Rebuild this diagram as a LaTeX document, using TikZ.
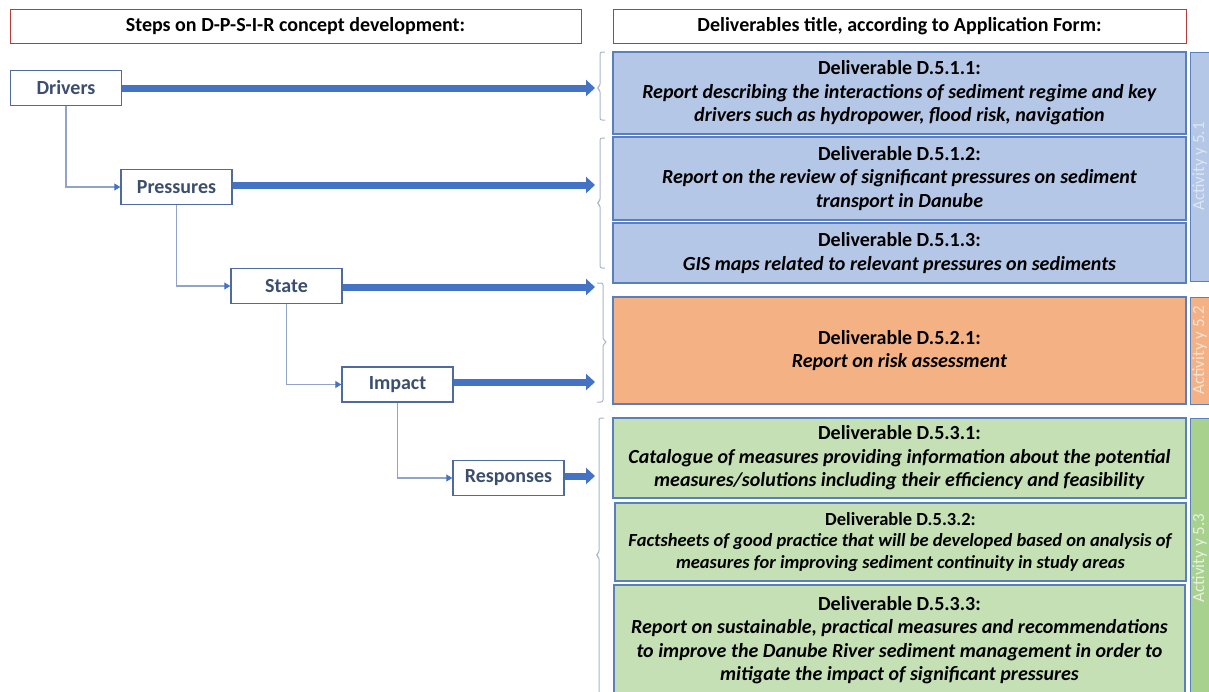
\documentclass[tikz,border=0pt]{standalone}
\usepackage{fontspec}
\setmainfont{Carlito}
\usetikzlibrary{arrows.meta,positioning}
\definecolor{hdred}{HTML}{B83C3C}
\definecolor{mainblue}{HTML}{4472C4}
\definecolor{stepline}{HTML}{4E6A9E}
\definecolor{steptext}{HTML}{3B4E6E}
\definecolor{thinline}{HTML}{8FA4C8}
\definecolor{bracecol}{HTML}{A9B6CC}
\definecolor{dblue}{HTML}{B4C7E7}
\definecolor{dblueline}{HTML}{5A7FBF}
\definecolor{dorange}{HTML}{F4B183}
\definecolor{dgreen}{HTML}{C5E0B4}
\definecolor{agreen}{HTML}{A9D18E}
\definecolor{actblue}{HTML}{DCE6F4}
\definecolor{actorange}{HTML}{FCE4D4}
\definecolor{actgreen}{HTML}{E6F2DE}
\tikzset{
  header/.style={draw=hdred, line width=0.9pt, fill=white, inner sep=0pt,
    font=\bfseries\fontsize{20}{22}\selectfont},
  stepbox/.style={draw=stepline, line width=1.4pt, fill=white, minimum width=111pt,
    minimum height=35pt, inner sep=0pt, text=steptext,
    font=\bfseries\fontsize{20}{22}\selectfont},
  bigarrow/.style={draw=mainblue, line width=7pt, -{Triangle[length=9pt,width=16pt]}},
  thinarrow/.style={draw=thinline, line width=1.1pt, -{Triangle[length=6pt,width=7pt,fill=mainblue,color=mainblue]}},
  delbox/.style={draw=dblueline, line width=1.3pt, minimum width=573pt, inner sep=0pt,
    align=center, font=\fontsize{20}{23.5}\selectfont},
  actbar/.style={draw=dblueline, line width=1pt, minimum width=19pt, inner sep=0pt},
  acttext/.style={rotate=90, font=\fontsize{17}{18}\selectfont},
  brace/.style={draw=bracecol, line width=1pt, rounded corners=2pt},
}
\newcommand{\dtitle}[1]{\textbf{#1}}
\newcommand{\ddesc}[1]{\textbf{\textit{#1}}}
\begin{document}
\begin{tikzpicture}[x=1pt,y=-1pt]
\useasboundingbox (0,0) rectangle (1209,691);

% column headers
\node[header, minimum width=571pt, minimum height=34pt] (hl) at (295.5,26) {Steps on D-P-S-I-R concept development:};
\node[header, minimum width=573pt, minimum height=34pt] (hr) at (899.5,26) {Deliverables title, according to Application Form:};

% D-P-S-I-R steps
\node[stepbox] (drv) at (66,88) {Drivers};
\node[stepbox] (prs) at (176.5,187) {Pressures};
\node[stepbox] (sta) at (286.5,286) {State};
\node[stepbox] (imp) at (397.5,384.5) {Impact};
\node[stepbox] (rsp) at (508.5,478) {Responses};

% free ends of the wide arrows, at the braces
\coordinate (tdrv) at (595,88);
\coordinate (tprs) at (595,185);
\coordinate (tsta) at (595,287);
\coordinate (timp) at (595,382);
\coordinate (trsp) at (595,476);

\draw[bigarrow] (drv.east |- tdrv) -- (tdrv);
\draw[bigarrow] (prs.east |- tprs) -- (tprs);
\draw[bigarrow] (sta.east |- tsta) -- (tsta);
\draw[bigarrow] (imp.east |- timp) -- (timp);
\draw[bigarrow] (rsp.east |- trsp) -- (trsp);

% cascade between the steps
\draw[thinarrow] (drv.south) |- (prs.west);
\draw[thinarrow] (prs.south) |- (sta.west);
\draw[thinarrow] (sta.south) |- (imp.west);
\draw[thinarrow] (imp.south) |- (rsp.west);

% braces grouping the deliverables
\draw[brace] (605,52) -- (600,52) -- (600,86) -- (597,88) -- (600,90) -- (600,120) -- (605,120);
\draw[brace] (605,138) -- (600,138) -- (600,201) -- (597,203) -- (600,205) -- (600,268) -- (605,268);
\draw[brace] (597,283) -- (603,283) -- (603,340) -- (607,342) -- (603,344) -- (603,402) -- (597,402);
\draw[brace] (604,418) -- (599,418) -- (599,553) -- (596,555) -- (599,557) -- (599,700);

% deliverables, activity 5.1
\node[delbox, fill=dblue, minimum height=82pt] (d511) at (899.5,93)
  {\dtitle{Deliverable D.5.1.1:}\\ \ddesc{Report describing the interactions of sediment regime and key}\\ \ddesc{drivers such as hydropower, flood risk, navigation}};
\node[delbox, fill=dblue, minimum height=83pt] (d512) at (899.5,178.5)
  {\dtitle{Deliverable D.5.1.2:}\\ \ddesc{Report on the review of significant pressures on sediment}\\ \ddesc{transport in Danube}};
\node[delbox, fill=dblue, minimum height=60pt] (d513) at (899.5,253)
  {\dtitle{Deliverable D.5.1.3:}\\ \ddesc{GIS maps related to relevant pressures on sediments}};

% deliverable, activity 5.2
\node[delbox, fill=dorange, minimum height=107pt] (d521) at (899.5,350.5)
  {\dtitle{Deliverable D.5.2.1:}\\ \ddesc{Report on risk assessment}};

% deliverables, activity 5.3
\node[delbox, fill=dgreen, minimum height=80pt] (d531) at (899.5,458)
  {\dtitle{Deliverable D.5.3.1:}\\ \ddesc{Catalogue of measures providing information about the potential}\\ \ddesc{measures/solutions including their efficiency and feasibility}};
\node[delbox, fill=dgreen, minimum height=78pt, minimum width=571pt, font=\fontsize{18.5}{21.5}\selectfont] (d532) at (900.5,542)
  {\dtitle{Deliverable D.5.3.2:}\\ \ddesc{Factsheets of good practice that will be developed based on analysis of}\\ \ddesc{measures for improving sediment continuity in study areas}};
\node[delbox, fill=dgreen, minimum height=110pt, minimum width=571pt] (d533) at (899.5,640)
  {\dtitle{Deliverable D.5.3.3:}\\ \ddesc{Report on sustainable, practical measures and recommendations}\\ \ddesc{to improve the Danube River sediment management in order to}\\ \ddesc{mitigate the impact of significant pressures}};

% activity bars
\node[actbar, fill=dblue, minimum height=229pt] (a1) at (1199.5,166.5) {};
\node[acttext, text=actblue] at (a1) {Activity y 5.1};
\node[actbar, fill=dorange, draw=dblueline, minimum height=107pt] (a2) at (1199.5,350.5) {};
\node[acttext, text=actorange] at (a2) {Activity y 5.2};
\node[actbar, fill=agreen, minimum height=280pt] (a3) at (1199.5,558) {};
\node[acttext, text=actgreen] at (a3) {Activity y 5.3};
\end{tikzpicture}
\end{document}
